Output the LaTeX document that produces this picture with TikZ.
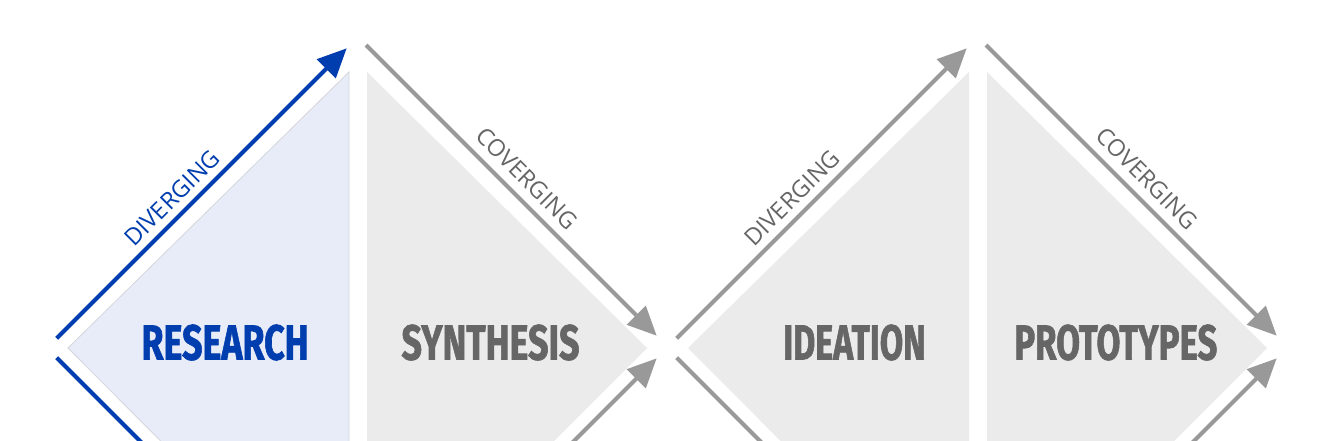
\documentclass[tikz,border=0pt]{standalone}
\usepackage{fontspec}
\usetikzlibrary{arrows.meta}
\newfontfamily\bigfont{Fira Sans}[BoldFeatures={FakeBold=1.6}]
\newfontfamily\smallfont{Open Sans}
\definecolor{dtblue}{HTML}{003DAE}
\definecolor{dtlightblue}{HTML}{E8ECF8}
\definecolor{dtgrayfill}{HTML}{EBEBEB}
\definecolor{dtarrow}{HTML}{999999}
\definecolor{dttext}{HTML}{666666}
\definecolor{dtedge}{HTML}{D4D6DC}
\newcommand{\phaselabel}[3]{\resizebox{#1pt}{#2pt}{\bigfont\bfseries #3}}
\tikzset{
  flow/.style={line width=4.2pt, -{Triangle[length=29pt,width=26pt]}},
  plainflow/.style={line width=4.2pt},
  phase/.style={inner sep=0pt, anchor=center},
  sidelabel/.style={inner sep=0pt, font=\smallfont\fontsize{23.5}{23.5}\selectfont},
}
\begin{document}
\begin{tikzpicture}[x=1pt,y=-1pt]
\useasboundingbox (0,0) rectangle (1340,440);
\clip (0,0) rectangle (1340,440);
\fill[white] (0,0) rectangle (1340,440);
% phase shapes
\filldraw[fill=dtlightblue, draw=dtedge, line width=0.8pt] (68,348) -- (349,72) -- (349,630) -- cycle;
\fill[dtgrayfill] (367,72) -- (647,348) -- (367,628) -- cycle;
\fill[dtgrayfill] (688,348) -- (969,72) -- (969,630) -- cycle;
\fill[dtgrayfill] (987,72) -- (1267,348) -- (987,628) -- cycle;
% coordinates
\coordinate (d1s) at (56.7,338.3);  \coordinate (d1e) at (346.7,48.3);
\coordinate (d1ls) at (56.7,357.7); \coordinate (d1le) at (156.7,457.7);
\coordinate (c1s) at (366,45);      \coordinate (c1e) at (656.7,335.7);
\coordinate (c1ls) at (556.7,458.3); \coordinate (c1le) at (656.7,358.3);
\coordinate (d2s) at (676.7,338.3);  \coordinate (d2e) at (966.7,48.3);
\coordinate (d2ls) at (676.7,357.7); \coordinate (d2le) at (776.7,457.7);
\coordinate (c2s) at (986,45);       \coordinate (c2e) at (1276.7,335.7);
\coordinate (c2ls) at (1176.7,458.3); \coordinate (c2le) at (1276.7,358.3);
% arrows
\draw[flow, dtblue] (d1s) -- (d1e);
\draw[plainflow, dtblue] (d1ls) -- (d1le);
\draw[flow, dtarrow] (c1s) -- (c1e);
\draw[flow, dtarrow] (c1ls) -- (c1le);
\draw[flow, dtarrow] (d2s) -- (d2e);
\draw[plainflow, dtarrow] (d2ls) -- (d2le);
\draw[flow, dtarrow] (c2s) -- (c2e);
\draw[flow, dtarrow] (c2ls) -- (c2le);
% labels
\node[phase, text=dtblue] (research) at (225,342.5) {\phaselabel{167}{35}{RESEARCH}};
\node[phase, text=dttext] (synthesis) at (490.5,342.5) {\phaselabel{178}{35}{SYNTHESIS}};
\node[phase, text=dttext] (ideation) at (854.5,342.5) {\phaselabel{142.5}{35}{IDEATION}};
\node[phase, text=dttext] (prototypes) at (1115.8,342.5) {\phaselabel{203}{35}{PROTOTYPES}};
\node[sidelabel, text=dtblue, rotate=45] (div1) at (172,198) {DIVERGING};
\node[sidelabel, text=dttext, rotate=-45] (conv1) at (527,178.5) {COVERGING};
\node[sidelabel, text=dttext, rotate=45] (div2) at (792,198) {DIVERGING};
\node[sidelabel, text=dttext, rotate=-45] (conv2) at (1147,178.5) {COVERGING};
\end{tikzpicture}
\end{document}
